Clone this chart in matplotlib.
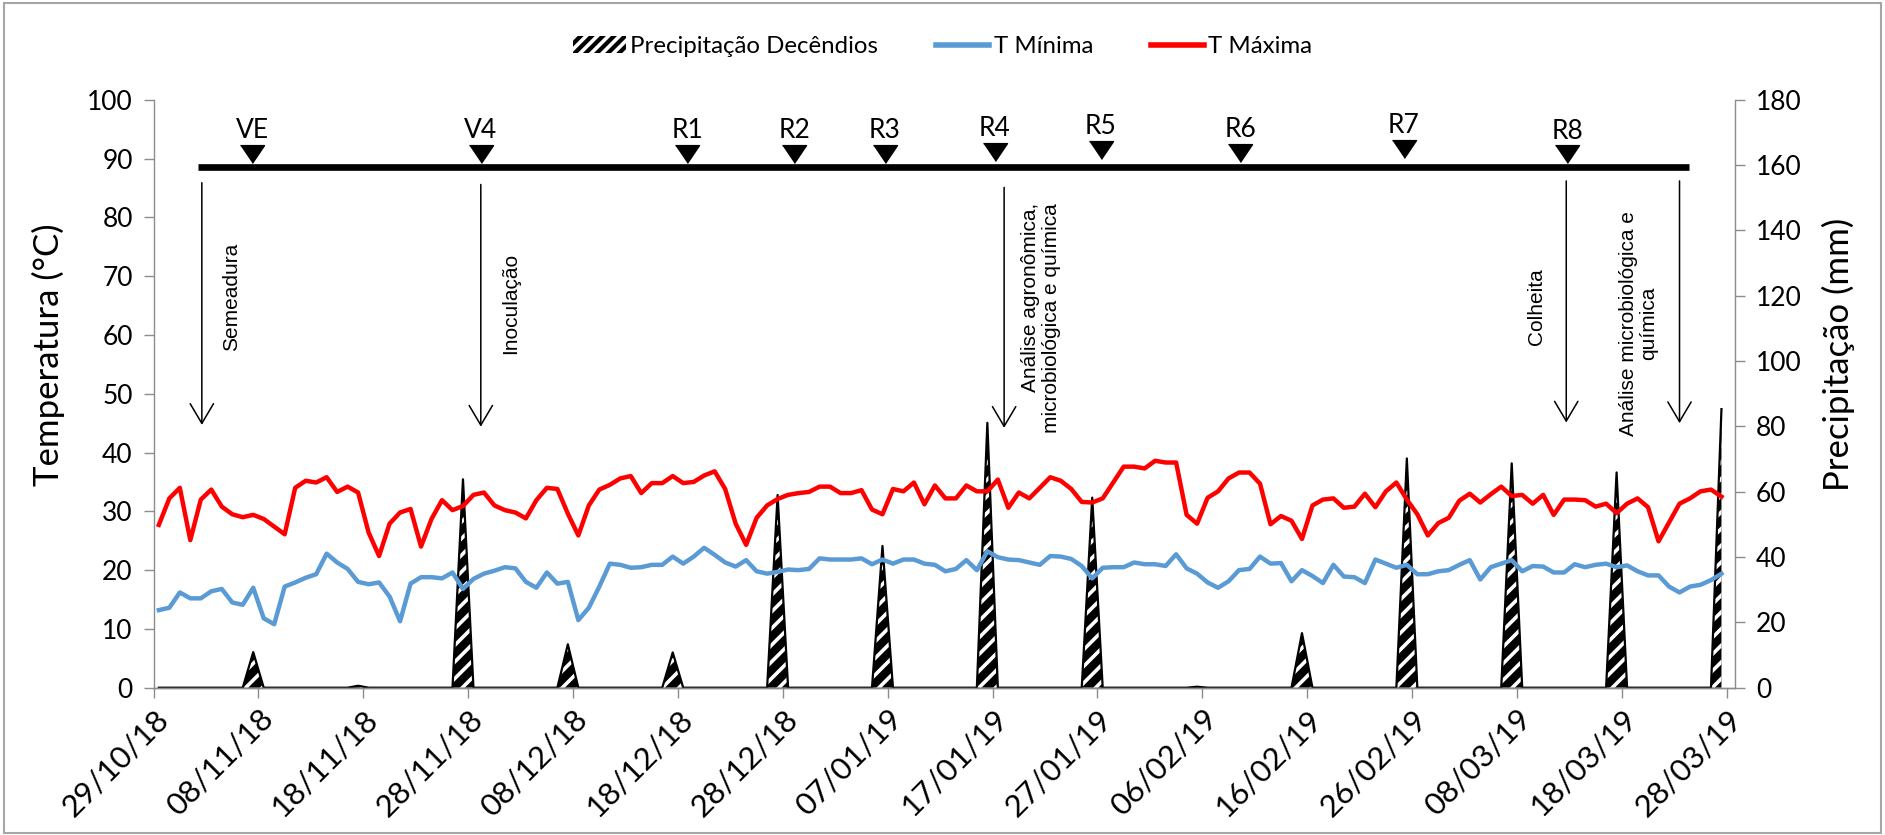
import numpy as np
import matplotlib.pyplot as plt
from matplotlib.patches import Rectangle, Patch
from matplotlib.lines import Line2D
from matplotlib.transforms import ScaledTranslation

plt.rcParams['font.family'] = ['Lato', 'DejaVu Sans']
plt.rcParams['hatch.linewidth'] = 2.6

# daily temperatures from 29/10/18 (one value per day)
t_max = [27.7, 32.2, 34.0, 25.1, 32.0, 33.7, 30.8, 29.5, 29.0, 29.4,
         28.7, 27.4, 26.1, 34.0, 35.2, 34.9, 35.8, 33.3, 34.2, 33.2,
         26.4, 22.4, 27.9, 29.8, 30.4, 24.0, 28.7, 31.9, 30.2, 30.9,
         32.8, 33.2, 31.0, 30.2, 29.8, 28.8, 31.9, 34.0, 33.8, 29.6,
         25.9, 31.0, 33.7, 34.5, 35.6, 36.0, 33.1, 34.8, 34.8, 36.0,
         34.8, 35.0, 36.1, 36.8, 33.8, 27.9, 24.3, 28.9, 31.0, 32.1,
         32.8, 33.1, 33.3, 34.2, 34.2, 33.1, 33.1, 33.6, 30.3, 29.5,
         33.8, 33.4, 34.9, 31.2, 34.4, 32.2, 32.2, 34.4, 33.4, 33.4,
         35.4, 30.6, 33.2, 32.2, 34.0, 35.8, 35.2, 33.8, 31.6, 31.5,
         32.2, 34.9, 37.6, 37.6, 37.3, 38.6, 38.3, 38.3, 29.4, 27.9,
         32.3, 33.4, 35.6, 36.6, 36.6, 34.7, 27.8, 29.2, 28.4, 25.3,
         31.0, 32.0, 32.2, 30.6, 30.8, 33.0, 30.7, 33.4, 34.9, 32.0,
         29.5, 25.9, 28.0, 28.9, 31.8, 33.0, 31.5, 32.9, 34.2, 32.6,
         32.8, 31.3, 32.8, 29.4, 32.0, 32.0, 31.9, 30.8, 31.3, 29.7,
         31.3, 32.2, 30.7, 24.9, 28.1, 31.3, 32.2, 33.4, 33.7, 32.5]

t_min = [13.2, 13.6, 16.2, 15.2, 15.2, 16.4, 16.8, 14.5, 14.1, 17.0,
         11.8, 10.8, 17.2, 17.9, 18.7, 19.3, 22.8, 21.3, 20.2, 18.0,
         17.6, 17.9, 15.5, 11.3, 17.7, 18.8, 18.8, 18.6, 19.6, 16.8,
         18.5, 19.4, 19.9, 20.5, 20.3, 18.0, 17.0, 19.6, 17.7, 18.0,
         11.5, 13.6, 17.2, 21.1, 20.9, 20.4, 20.5, 20.9, 20.9, 22.3,
         21.1, 22.3, 23.8, 22.6, 21.3, 20.6, 21.7, 19.8, 19.4, 19.7,
         20.1, 20.0, 20.2, 22.0, 21.8, 21.8, 21.8, 22.0, 21.0, 21.8,
         21.1, 21.8, 21.8, 21.1, 20.9, 19.8, 20.2, 21.7, 20.0, 23.2,
         22.2, 21.8, 21.7, 21.3, 20.9, 22.4, 22.3, 21.9, 20.7, 18.6,
         20.4, 20.5, 20.5, 21.3, 21.0, 21.0, 20.7, 22.7, 20.3, 19.4,
         17.9, 17.0, 18.1, 20.0, 20.2, 22.3, 21.1, 21.2, 18.1, 20.0,
         19.0, 17.8, 20.9, 18.9, 18.8, 17.8, 21.8, 21.1, 20.4, 20.9,
         19.3, 19.3, 19.8, 20.0, 20.9, 21.7, 18.4, 20.5, 21.1, 21.7,
         19.8, 20.7, 20.6, 19.6, 19.6, 21.0, 20.5, 20.9, 21.1, 20.5,
         20.8, 19.8, 19.1, 19.1, 17.2, 16.2, 17.2, 17.5, 18.3, 19.4]

# decendial rainfall, placed on the last day of each 10-day period
rain_day = [9, 19, 29, 39, 49, 59, 69, 79, 89, 99, 109, 119, 129, 139, 149]
rain_mm = [10.9, 0.6, 63.8, 13.3, 10.8, 59.0, 43.4, 81.1, 58.2, 0.3,
           16.7, 70.2, 68.7, 65.9, 85.3]

date_labels = ['29/10/18', '08/11/18', '18/11/18', '28/11/18', '08/12/18',
               '18/12/18', '28/12/18', '07/01/19', '17/01/19', '27/01/19',
               '06/02/19', '16/02/19', '26/02/19', '08/03/19', '18/03/19',
               '28/03/19']

# phenological stages (day from 29/10/18) and marker tip height
stages = ['VE', 'V4', 'R1', 'R2', 'R3', 'R4', 'R5', 'R6', 'R7', 'R8']
stage_day = [9.4, 31.2, 50.9, 61.1, 69.7, 80.2, 90.3, 103.6, 119.2, 134.8]
stage_tip = [89.25, 89.25, 89.25, 89.25, 89.35, 89.65, 89.9, 89.45, 90.2, 89.2]

# events: arrow day, label, label position
events = ['Semeadura', 'Inoculação', 'Análise agronômica,\nmicrobiológica e química',
          'Colheita', 'Análise microbiológica e\nquímica']
event_day = [4.6, 31.2, 81.1, 134.7, 145.5]
event_top = [85.9, 85.6, 85.1, 86.2, 86.2]
event_tip = [44.7, 44.4, 44.2, 45.1, 45.0]
label_x = [7.45, 34.05, 84.6, 131.9, 141.6]
label_y = [66.4, 65.3, 62.9, 64.8, 61.9]
label_align = ['center', 'center', 'right', 'center', 'center']

days = np.arange(len(t_max)) + 0.5
rain = np.zeros(len(t_max))
rain[rain_day] = rain_mm

fig = plt.figure(figsize=(18.85, 8.35), dpi=100)
ax = fig.add_axes([153.6 / 1885, 1 - 687.7 / 835, 1581.5 / 1885, 587.9 / 835])
ax2 = ax.twinx()
ax.set_zorder(ax2.get_zorder() + 1)
ax.patch.set_visible(False)

grey = '#8c8c8c'

# rainfall area
ax2.fill_between(days, 0, rain, facecolor='black', edgecolor='white',
                 hatch='//', linewidth=0)
ax2.plot(days, rain, color='black', lw=1.6)
ax2.set_ylim(0, 180)
ax2.set_yticks(np.arange(0, 181, 20))

ax.plot(days, t_min, color='#5b9bd5', lw=3.2)
ax.plot(days, t_max, color='#ff0000', lw=3.2)

ax.set_xlim(0, 150.8)
ax.set_ylim(0, 100)
ax.set_yticks(np.arange(0, 101, 10))
ax.set_xticks(np.arange(0, 151, 10))
ax.set_xticklabels(date_labels, rotation=45, ha='right', va='top',
                   rotation_mode='anchor', fontsize=22.5)
shift = ScaledTranslation(0.07, 0, fig.dpi_scale_trans)
for lab in ax.get_xticklabels():
    lab.set_transform(lab.get_transform() + shift)

for a in (ax, ax2):
    for s in a.spines.values():
        s.set_color(grey)
        s.set_linewidth(1)
    a.spines['top'].set_visible(False)
    a.tick_params(colors=grey, labelcolor='black', length=7, width=1,
                  direction='out')
    a.tick_params(axis='y', labelsize=19, pad=8)
ax.tick_params(axis='x', pad=5)
ax2.spines['left'].set_visible(False)
ax.spines['right'].set_visible(False)

ax.set_ylabel('Temperatura (°C)', fontsize=25)
ax.yaxis.set_label_coords(-0.056, 0.567)
ax2.set_ylabel('Precipitação (mm)', fontsize=25)
ax2.yaxis.set_label_coords(1.055, 0.567)

# stage bar with triangles
ax.plot([4.26, 146.4], [88.6, 88.6], color='black', lw=4.8,
        solid_capstyle='butt')
tri = [(-1, 0.74), (1, 0.74), (0, -0.74)]
for name, d, tip in zip(stages, stage_day, stage_tip):
    ax.plot(d, tip + 1.5, marker=tri, ms=17.3, color='black', ls='none')
    ax.text(d, tip + 4.2, name, ha='center', va='baseline', fontsize=19)

# event arrows
for name, d, y0, y1, lx, ly, al in zip(events, event_day, event_top, event_tip,
                                        label_x, label_y, label_align):
    ax.annotate('', xy=(d, y1), xytext=(d, y0),
                arrowprops=dict(arrowstyle='->, head_length=0.71, head_width=0.42',
                                color='black', lw=1.1, mutation_scale=20,
                                shrinkA=0, shrinkB=0))
    ax.text(lx, ly, name, rotation=90, ha='center', va='center',
            multialignment=al, fontsize=15, family='Liberation Sans',
            linespacing=1.1)

handles = [Patch(facecolor='black', edgecolor='white', hatch='///', lw=0),
           Line2D([], [], color='#5b9bd5', lw=4),
           Line2D([], [], color='#ff0000', lw=4)]
fig.legend(handles, ['Precipitação Decêndios', 'T Mínima', 'T Máxima'],
           loc='center', bbox_to_anchor=(0.5, 0.944), ncol=3, frameon=False,
           fontsize=17.3, handlelength=2.2, handletextpad=0.2, columnspacing=2.4)

fig.add_artist(Rectangle((0.002, 0.002), 0.996, 0.994, transform=fig.transFigure,
                         fill=False, edgecolor='#a6a6a6', lw=1.5))

fig.savefig('out.png', dpi=100)
